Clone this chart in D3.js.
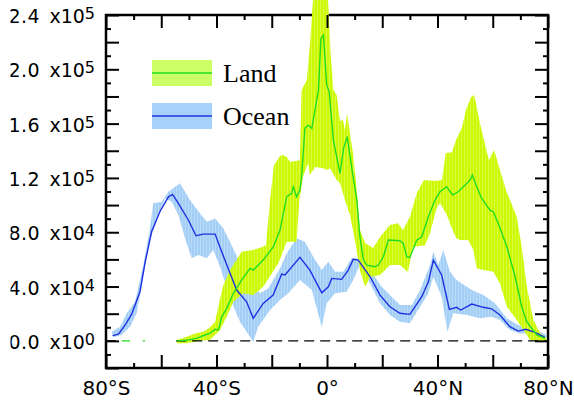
<!DOCTYPE html>
<html><head><meta charset="utf-8">
<script src="https://cdn.jsdelivr.net/npm/d3@7"></script>
<style>html,body{margin:0;padding:0;background:#fff;} svg{display:block;}</style>
</head><body>
<svg id="chart" width="574" height="400"></svg>
<script>
// ---- data: [latitude (deg, S negative), value] ----
const oceanMean = [[-77.6,3800],[-75.5,5000],[-73.1,11600],[-70.7,19700],[-67.7,36200],[-65.9,57300],[-63.5,80300],[-60.5,95100],[-57.4,106100],[-55.9,107900],[-53.8,101300],[-50.2,89000],[-47.4,77400],[-44.8,78600],[-40.5,78600],[-38.7,68700],[-35.1,49700],[-32.7,37400],[-29.1,28800],[-26.7,16600],[-23.1,27600],[-19.5,33700],[-16.4,49200],[-15.2,48500],[-9.8,61500],[-6.2,52100],[-1.9,35400],[0.5,39800],[1.7,46000],[5.3,45300],[7.7,52100],[9.5,60000],[11.3,59500],[15.6,47200],[19.2,33700],[22.8,25100],[26.4,20300],[30.0,19500],[34.3,32500],[36.7,43500],[38.5,59500],[41.5,48500],[44.3,23200],[46.9,24700],[48.4,22700],[52.4,27100],[56.6,24700],[59.6,23600],[62.6,19000],[66.2,10400],[69.2,7200],[72.0,8500],[75.3,6300],[78.9,2600]];
const oceanHigh = [[-77.9,6700],[-74.9,10400],[-72.5,20300],[-69.5,28800],[-66.5,55800],[-64.1,82800],[-62.9,101300],[-59.8,102400],[-57.4,109800],[-53.2,116000],[-49.6,103700],[-46.0,93900],[-43.5,87700],[-40.5,90200],[-37.5,82800],[-35.1,73000],[-31.5,57100],[-27.9,44800],[-24.3,35000],[-21.2,38700],[-17.0,53400],[-14.6,64400],[-11.0,75500],[-8.0,73000],[-5.0,61900],[-1.9,52100],[0.5,58200],[2.9,50900],[5.9,50900],[8.9,60800],[11.3,60800],[11.9,63200],[15.6,52100],[19.8,39800],[23.4,32500],[26.4,26400],[30.7,26400],[33.7,37400],[37.3,55800],[38.5,65600],[40.3,55800],[42.1,66900],[44.5,50900],[46.9,44800],[52.4,37400],[56.6,33700],[60.8,27600],[65.1,16600],[69.2,11600],[72.3,10400],[75.9,8000],[79.5,4300]];
const oceanLow = [[-77.4,2600],[-74.3,4300],[-71.3,10400],[-68.9,20300],[-65.9,54600],[-64.1,74200],[-61.6,89000],[-58.6,104900],[-56.2,102400],[-53.8,92600],[-51.4,75500],[-49.0,60800],[-46.6,63200],[-43.5,60800],[-41.2,66900],[-38.7,54600],[-35.1,31300],[-31.5,14100],[-26.7,-700],[-24.9,10400],[-20.6,22700],[-17.0,30000],[-14.0,35000],[-9.8,44800],[-5.5,37400],[-1.9,10400],[-0.1,27600],[2.9,35000],[7.1,36200],[9.5,44800],[11.9,55800],[15.6,42300],[19.2,27600],[22.8,19000],[26.4,14100],[30.0,12900],[33.7,25100],[36.7,35000],[38.5,47200],[41.5,32500],[43.6,6700],[45.7,20300],[50.6,19000],[55.4,16600],[59.6,17700],[62.6,15300],[66.2,8000],[69.9,5500],[74.7,5500],[79.5,1100]];

const landMean = [[-74.3,0],[-71.3,0],[-70,null],[-66.7,0],[-65.9,0],[-60,null],[-54.4,0],[-50.2,600],[-47.2,1800],[-44.2,4300],[-42.4,5500],[-40.5,8500],[-39.3,8000],[-38.1,17700],[-36.3,23900],[-33.9,35000],[-30.9,44800],[-27.9,53400],[-26.7,52100],[-23.1,59500],[-19.4,69300],[-17.0,81600],[-14.6,106100],[-12.8,108600],[-12.2,113500],[-11.0,106100],[-9.8,111000],[-9.2,120800],[-8.0,156500],[-6.8,158900],[-5.5,156500],[-3.1,184700],[-2.2,222800],[-1.3,225200],[-0.1,188400],[0.8,183400],[2.3,147900],[4.7,123300],[6.0,141800],[7.3,150400],[8.9,128200],[10.8,103700],[11.9,76700],[13.2,59500],[14.4,55800],[17.4,54600],[18.6,55800],[20.4,61900],[22.2,74200],[26.4,73700],[27.6,71800],[28.9,61900],[30.0,61500],[32.5,74200],[34.3,76700],[36.7,91400],[39.1,103700],[40.9,109800],[43.3,113500],[45.5,107400],[47.5,109800],[50.0,114700],[51.8,118400],[52.6,122100],[54.2,113500],[56.0,104900],[59.0,96300],[60.2,95100],[62.0,86500],[65.1,69300],[68.1,47200],[70.5,25100],[72.3,14100],[75.9,4300],[78.9,1800]];
const landHigh = [[-54.4,600],[-50.8,3000],[-47.8,5500],[-44.8,6700],[-42.4,9900],[-40.5,14100],[-38.7,31300],[-37.5,41100],[-35.1,52100],[-30.9,65600],[-26.7,66900],[-23.5,69100],[-22.1,70500],[-20.6,103700],[-19.2,129400],[-17.0,136100],[-15.9,136800],[-14.5,135300],[-13.4,131700],[-9.8,133100],[-9.2,184700],[-7.3,192000],[-6.2,217800],[-5.1,250000],[-3.0,265000],[-1.0,265000],[0.4,250000],[1.3,211900],[2.3,184700],[3.5,181000],[4.7,161900],[5.8,162600],[6.5,155200],[7.3,167700],[8.3,153000],[9.4,138300],[10.8,111000],[11.9,81600],[13.8,72000],[16.7,68300],[19.2,76400],[22.8,85300],[25.7,86700],[27.5,81600],[30.0,91200],[32.5,108800],[35.1,118400],[39.1,117700],[41.6,118400],[43.0,138300],[45.2,139000],[46.7,147900],[48.9,157400],[50.3,170000],[52.1,179500],[53.2,181000],[53.9,175100],[55.7,157400],[58.6,133100],[60.5,140500],[62.3,128000],[64.8,111000],[68.7,91200],[70.5,69100],[72.3,40300],[74.7,15300],[77.1,5700],[79.5,2100]];
const landLow = [[-54.4,-1800],[-50.8,-1800],[-46.0,0],[-42.4,600],[-38.7,8000],[-36.3,17700],[-33.9,28800],[-30.3,35000],[-26.7,33700],[-23.1,39800],[-17.6,57100],[-14.6,73000],[-11.0,73000],[-10.0,103700],[-8.6,121400],[-6.8,130900],[-6.2,122100],[-4.3,128000],[-1.3,127200],[-0.1,125800],[1.1,127200],[3.5,118400],[4.7,116200],[6.5,103700],[8.3,92600],[10.1,74200],[11.9,52100],[13.8,39800],[15.6,47000],[19.2,48500],[22.8,55800],[26.4,55800],[29.3,50700],[31.1,69100],[35.5,70500],[37.3,79400],[39.7,97800],[40.9,101500],[43.4,92600],[45.2,83000],[46.7,75700],[48.1,74200],[51.1,74200],[53.0,66900],[54.2,53400],[56.6,52100],[60.2,50900],[62.6,42300],[65.1,25100],[68.7,15300],[71.1,8000],[73.5,600],[77.1,-700],[79.5,600]];

const zeroSpans = [[-80,-76],[-54.6,80]];
const xTickLabels = [-80,-40,0,40,80];
const yTickLabels = [0,40000,80000,120000,160000,200000,240000];
const seriesNames = ["Land","Ocean"];

// ---- scales ----
const x = d3.scaleLinear([-80,80],[106,548]);
const y = d3.scaleLinear([-20000,240000],[368,15]);
const svg = d3.select("#chart");
const [x0,x1] = x.range(), [yb,yt] = y.range();

const colors = {landBand:"#ccf800", landStripe:"#e2ff70", landLine:"#22dd22",
                oceanBand:"#a3cff7", oceanStripe:"#c8e3fb", oceanLine:"#2030e0",
                landLeg:"#ccff66", oceanLeg:"#a6d1fa"};

// stripe patterns (faint vertical hatching as in the original rendering)
const defs = svg.append("defs");
function stripe(id, base, line){
  const p = defs.append("pattern").attr("id",id).attr("patternUnits","userSpaceOnUse")
    .attr("width",3).attr("height",10);
  p.append("rect").attr("width",3).attr("height",10).attr("fill",base);
  p.append("rect").attr("x",2.3).attr("width",0.6).attr("height",10).attr("fill",line);
}
stripe("landPat", colors.landBand, colors.landStripe);
stripe("oceanPat", colors.oceanBand, colors.oceanStripe);

// frame
svg.append("rect").attr("x",x0).attr("y",yt).attr("width",x1-x0).attr("height",yb-yt)
  .attr("fill","none").attr("stroke","#000").attr("stroke-width",2.5);

const pt = d3.line().x(d=>x(d[0])).y(d=>y(d[1]));
const band = (hi,lo) => pt(hi.concat(lo.slice().reverse())) + "Z";

svg.append("path").attr("d",band(oceanHigh,oceanLow)).attr("fill","url(#oceanPat)");
svg.append("path").attr("d",band(landHigh,landLow)).attr("fill","url(#landPat)");

// zero line
zeroSpans.forEach(s=>{
  svg.append("path").attr("d",pt([[s[0],0],[s[1],0]])).attr("stroke","#000")
    .attr("stroke-width",1.3).attr("stroke-dasharray","10,6").attr("fill","none");
});

const ln = d3.line().defined(d=>d[1]!==null).x(d=>x(d[0])).y(d=>y(d[1]));
svg.append("path").attr("d",ln(oceanMean)).attr("fill","none").attr("stroke",colors.oceanLine).attr("stroke-width",1.4);
svg.append("path").attr("d",ln(landMean)).attr("fill","none").attr("stroke",colors.landLine).attr("stroke-width",1.4);

// ticks
function ticks(gen, tr){
  const g = svg.append("g").attr("transform",tr).call(gen);
  g.select(".domain").remove();
  g.selectAll("text").remove();
  g.selectAll("line").attr("stroke","#000").attr("stroke-width",2);
}
const xMaj = d3.range(-80,81,20), xMin = d3.range(-70,80,20);
const yMaj = d3.range(-20000,240001,20000), yMin = d3.range(-10000,240000,20000);
ticks(d3.axisBottom(x).tickValues(xMaj).tickSize(-13), `translate(0,${yb})`);
ticks(d3.axisBottom(x).tickValues(xMin).tickSize(-5), `translate(0,${yb})`);
ticks(d3.axisTop(x).tickValues(xMaj).tickSize(-13), `translate(0,${yt})`);
ticks(d3.axisTop(x).tickValues(xMin).tickSize(-5), `translate(0,${yt})`);
ticks(d3.axisLeft(y).tickValues(yMaj).tickSize(-13), `translate(${x0},0)`);
ticks(d3.axisLeft(y).tickValues(yMin).tickSize(-5), `translate(${x0},0)`);
ticks(d3.axisRight(y).tickValues(yMaj).tickSize(-13), `translate(${x1},0)`);
ticks(d3.axisRight(y).tickValues(yMin).tickSize(-5), `translate(${x1},0)`);

// x labels
const xfmt = d => d===0 ? "0°" : Math.abs(d)+"°"+(d<0?"S":"N");
const gx = svg.append("g").attr("transform",`translate(0,${yb})`)
  .call(d3.axisBottom(x).tickValues(xTickLabels).tickSize(0).tickPadding(13).tickFormat(xfmt));
gx.select(".domain").remove();
gx.selectAll("text").attr("font-family","DejaVu Sans").attr("font-size",20).attr("fill","#000");

// y labels (left edge cropped as in the original image)
defs.append("clipPath").attr("id","lclip").append("rect").attr("x",10.5).attr("y",0).attr("width",100).attr("height",400);
const holder = svg.append("g").attr("clip-path","url(#lclip)");
const gy = holder.append("g").attr("transform",`translate(${x0},0)`)
  .call(d3.axisLeft(y).tickValues(yTickLabels).tickSize(0).tickPadding(11).tickFormat(""));
gy.select(".domain").remove();
gy.selectAll(".tick text").each(function(d){
  const t = d3.select(this);
  const e = d===0 ? 0 : Math.floor(Math.log10(d));
  const m = (d/Math.pow(10,e)).toFixed(1);
  t.text(null);
  t.append("tspan").attr("letter-spacing","0.5").text(m);
  t.append("tspan").attr("dx",9.3).text("x10");
  t.append("tspan").attr("dy",-4).attr("font-size",16).text(e);
}).attr("font-family","DejaVu Sans").attr("font-size",19).attr("fill","#000").attr("dy","0.4em");

// legend
const leg = svg.append("g");
const legItems = [{name:seriesNames[0], fill:colors.landLeg, line:colors.landLine, y:60},
                  {name:seriesNames[1], fill:colors.oceanLeg, line:colors.oceanLine, y:103}];
legItems.forEach(it=>{
  leg.append("rect").attr("x",152).attr("y",it.y).attr("width",60).attr("height",26).attr("fill",it.fill);
  leg.append("line").attr("x1",152).attr("x2",212).attr("y1",it.y+13).attr("y2",it.y+13).attr("stroke",it.line).attr("stroke-width",1.6);
  leg.append("text").attr("x",223).attr("y",it.y+21.5).attr("font-family","Liberation Serif").attr("font-size",26).attr("fill","#000").text(it.name);
});
</script>
</body></html>
